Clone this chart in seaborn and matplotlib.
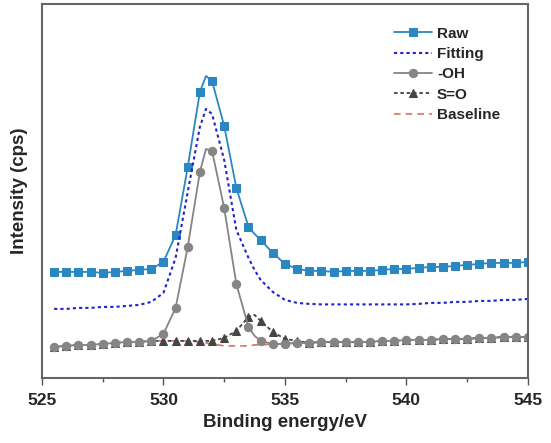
import matplotlib
matplotlib.use("Agg")
import matplotlib.pyplot as plt
import numpy as np
import pandas as pd
import seaborn as sns
from matplotlib.ticker import MultipleLocator

# binding energy grid (eV); 531.75 and 533.75 are extra line points without markers
energy = [525.5, 526.0, 526.5, 527.0, 527.5, 528.0, 528.5, 529.0, 529.5, 530.0,
          530.5, 531.0, 531.5, 531.75, 532.0, 532.5, 533.0, 533.5, 533.75, 534.0,
          534.5, 535.0, 535.5, 536.0, 536.5, 537.0, 537.5, 538.0, 538.5, 539.0,
          539.5, 540.0, 540.5, 541.0, 541.5, 542.0, 542.5, 543.0, 543.5, 544.0,
          544.5, 545.0]

raw = [10.6, 10.6, 10.6, 10.6, 10.5, 10.6, 10.7, 10.8, 10.9, 11.6,
       14.3, 21.1, 28.6, 30.2, 29.7, 25.2, 19.0, 15.1, 14.4, 13.8,
       12.5, 11.4, 10.9, 10.7, 10.7, 10.6, 10.7, 10.7, 10.7, 10.8,
       10.9, 10.9, 11.0, 11.1, 11.1, 11.2, 11.3, 11.4, 11.5, 11.5,
       11.5, 11.6]

fitting = [6.9, 6.9, 7.0, 7.0, 7.1, 7.1, 7.2, 7.3, 7.6, 8.5,
           12.0, 18.6, 25.1, 26.9, 26.4, 21.8, 14.8, 12.0, 10.8, 9.8,
           8.6, 7.8, 7.5, 7.4, 7.35, 7.35, 7.35, 7.35, 7.35, 7.35,
           7.35, 7.35, 7.4, 7.5, 7.5, 7.6, 7.6, 7.7, 7.7, 7.8,
           7.8, 7.9]

oh = [3.1, 3.2, 3.3, 3.3, 3.4, 3.5, 3.6, 3.6, 3.7, 4.4,
      7.0, 13.1, 20.6, 22.9, 22.7, 17.0, 9.4, 5.1, 4.2, 3.7,
      3.4, 3.4, 3.5, 3.5, 3.6, 3.6, 3.6, 3.6, 3.6, 3.7,
      3.7, 3.8, 3.8, 3.8, 3.9, 3.9, 3.9, 4.0, 4.0, 4.1,
      4.1, 4.1]

so = [3.1, 3.2, 3.3, 3.3, 3.4, 3.5, 3.6, 3.6, 3.7, 3.7,
      3.7, 3.7, 3.7, 3.7, 3.7, 4.0, 4.7, 6.1, 6.3, 5.7,
      4.6, 3.9, 3.7, 3.5, 3.6, 3.6, 3.6, 3.6, 3.6, 3.7,
      3.7, 3.8, 3.8, 3.8, 3.9, 3.9, 3.9, 4.0, 4.0, 4.1,
      4.1, 4.1]

baseline = [3.1, 3.2, 3.3, 3.3, 3.4, 3.5, 3.6, 3.6, 3.7, 3.7,
            3.7, 3.7, 3.6, 3.5, 3.4, 3.2, 3.2, 3.2, 3.3, 3.3,
            3.4, 3.4, 3.5, 3.5, 3.6, 3.6, 3.6, 3.6, 3.6, 3.7,
            3.7, 3.8, 3.8, 3.8, 3.9, 3.9, 3.9, 4.0, 4.0, 4.1,
            4.1, 4.1]

df = pd.DataFrame({"E": energy, "Raw": raw, "Fitting": fitting, "OH": oh,
                   "SO": so, "Baseline": baseline})
marks = [i for i, e in enumerate(energy) if (e * 2) % 1 == 0]

sns.set_theme(style="ticks")
plt.rcParams["font.family"] = ["Liberation Sans", "DejaVu Sans"]
plt.rcParams["font.weight"] = "bold"

fig, ax = plt.subplots(figsize=(5.51, 4.43), dpi=100)
fig.subplots_adjust(left=0.0762, right=0.958, top=0.991, bottom=0.147)

sns.lineplot(data=df, x="E", y="Raw", ax=ax, color="#2b87c2", lw=1.3,
             marker="s", markersize=5.5, mec="#2b87c2", markevery=marks,
             estimator=None, label="Raw")
sns.lineplot(data=df, x="E", y="Fitting", ax=ax, color="#2222cc", lw=1.5,
             linestyle=(0, (1.5, 1.5)), estimator=None, label="Fitting")
sns.lineplot(data=df, x="E", y="Baseline", ax=ax, color="#e07060", lw=1.2,
             linestyle=(0, (4, 3)), estimator=None, label="Baseline", zorder=1)
sns.lineplot(data=df, x="E", y="SO", ax=ax, color="#454545", lw=1.3,
             linestyle=(0, (2, 1.5)), marker="^", markersize=6, mec="#454545",
             markevery=marks, estimator=None, label="S=O")
sns.lineplot(data=df, x="E", y="OH", ax=ax, color="#858585", lw=1.3,
             marker="o", markersize=6, mec="#858585", markevery=marks,
             estimator=None, label="-OH")

ax.set_xlim(525, 545)
ax.set_ylim(0, 37.4)
ax.xaxis.set_major_locator(MultipleLocator(5))
ax.xaxis.set_minor_locator(MultipleLocator(2.5))
ax.tick_params(axis="x", which="major", direction="out", length=5, width=1,
               color="#555555", labelsize=12.5, pad=6)
ax.tick_params(axis="x", which="minor", direction="out", length=3, width=1,
               color="#555555")
ax.set_yticks([])
for spine in ax.spines.values():
    spine.set_visible(True)
    spine.set_color("#666666")
    spine.set_linewidth(1.5)

ax.set_xlabel("Binding energy/eV", fontsize=13.5, fontweight="bold", labelpad=4)
ax.set_ylabel("Intensity (cps)", fontsize=13.5, fontweight="bold", labelpad=10)

handles, labels = ax.get_legend_handles_labels()
order = ["Raw", "Fitting", "-OH", "S=O", "Baseline"]
hmap = dict(zip(labels, handles))
ax.legend([hmap[k] for k in order], order, loc="upper left",
          bbox_to_anchor=(0.711, 0.956), frameon=False,
          handlelength=2.5, handletextpad=0.35, labelspacing=0.42,
          borderaxespad=0, prop={"weight": "bold", "size": 11})

fig.savefig("out.png", dpi=100)
